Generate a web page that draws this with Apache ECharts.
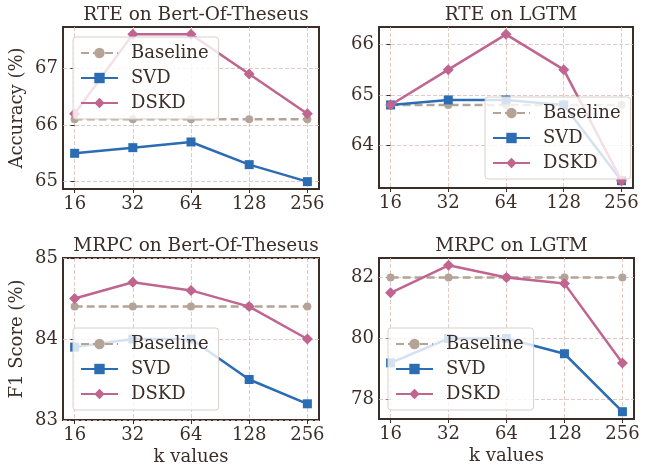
<!DOCTYPE html>
<html><head><meta charset="utf-8">
<script src="https://cdn.jsdelivr.net/npm/echarts@6/dist/echarts.min.js"></script>
<style>html,body{margin:0;padding:0;background:#fff}#c{width:650px;height:468px}</style>
</head><body><div id="c"></div>
<script>
const categories = ['16', '32', '64', '128', '256'];
const titles = ['RTE on Bert-Of-Theseus', 'RTE on LGTM', 'MRPC on Bert-Of-Theseus', 'MRPC on LGTM'];
const seriesNames = ['Baseline', 'SVD', 'DSKD'];

const rteBertBaseline = [66.1, 66.1, 66.1, 66.1, 66.1];
const rteBertSVD = [65.5, 65.6, 65.7, 65.3, 65.0];
const rteBertDSKD = [66.2, 67.6, 67.6, 66.9, 66.2];

const rteLgtmBaseline = [64.8, 64.8, 64.8, 64.8, 64.8];
const rteLgtmSVD = [64.8, 64.9, 64.9, 64.8, 63.3];
const rteLgtmDSKD = [64.8, 65.5, 66.2, 65.5, 63.3];

const mrpcBertBaseline = [84.4, 84.4, 84.4, 84.4, 84.4];
const mrpcBertSVD = [83.9, 84.0, 84.0, 83.5, 83.2];
const mrpcBertDSKD = [84.5, 84.7, 84.6, 84.4, 84.0];

const mrpcLgtmBaseline = [82.0, 82.0, 82.0, 82.0, 82.0];
const mrpcLgtmSVD = [79.2, 80.0, 80.0, 79.5, 77.6];
const mrpcLgtmDSKD = [81.5, 82.4, 82.0, 81.8, 79.2];

const yTicks = [[65, 66, 67], [64, 65, 66], [83, 84, 85], [78, 80, 82]];
const yNames = ['Accuracy (%)', '', 'F1 Score (%)', ''];
const xNames = ['', '', 'k values', 'k values'];

const panels = [
  [rteBertBaseline, rteBertSVD, rteBertDSKD],
  [rteLgtmBaseline, rteLgtmSVD, rteLgtmDSKD],
  [mrpcBertBaseline, mrpcBertSVD, mrpcBertDSKD],
  [mrpcLgtmBaseline, mrpcLgtmSVD, mrpcLgtmDSKD]
];

const FONT = 'DejaVu Serif';
const FS = 18;
const TXT = '#3b2e28';
const FRAME = '#3b2e28';
const GRIDC = '#dcbdb6';
const colors = ['#b4a397', '#2b6cb3', '#c0658f'];
const symbols = ['circle', 'rect', 'diamond'];
const symSizes = [8, 9, 11];

const grids = [
  {left: 63, top: 27, width: 256, height: 162},
  {left: 379, top: 27, width: 254, height: 161},
  {left: 63, top: 258, width: 256, height: 162},
  {left: 379, top: 258, width: 255, height: 161}
];
const yRanges = [[64.87, 67.73], [63.155, 66.345], [83, 85], [77.36, 82.64]];
const legendPos = [
  {left: 73, top: 37}, {left: 485, top: 97}, {left: 73, top: 328}, {left: 388, top: 328}
];

const option = {
  backgroundColor: '#fff',
  animation: false,
  title: [], grid: [], xAxis: [], yAxis: [], legend: [], series: []
};

grids.forEach((g, i) => {
  option.grid.push(Object.assign({show: true, borderColor: FRAME, borderWidth: 2, backgroundColor: 'transparent', containLabel: false}, g));
  option.title.push({
    text: titles[i], left: g.left + g.width / 2, top: g.top - 26, textAlign: 'center',
    textStyle: {fontFamily: FONT, fontSize: 18.5, fontWeight: 'normal', color: TXT}
  });
  option.xAxis.push({
    type: 'value', gridIndex: i, min: -0.2, max: 4.2,
    name: xNames[i], nameLocation: 'middle', nameGap: 28,
    nameTextStyle: {fontFamily: FONT, fontSize: FS, color: TXT},
    axisLine: {show: false},
    axisTick: {show: true, length: 4, customValues: [0, 1, 2, 3, 4], lineStyle: {color: FRAME, width: 1}},
    axisLabel: {customValues: [0, 1, 2, 3, 4], formatter: v => categories[Math.round(v)], fontFamily: FONT, fontSize: FS, color: TXT, margin: 6},
    splitLine: {show: true, lineStyle: {color: GRIDC, type: [4, 2], width: 0.8}}
  });
  option.yAxis.push({
    type: 'value', gridIndex: i, min: yRanges[i][0], max: yRanges[i][1],
    name: yNames[i], nameLocation: 'middle', nameGap: 37,
    nameTextStyle: {fontFamily: FONT, fontSize: FS, color: TXT},
    axisLine: {show: false},
    axisTick: {show: true, length: 4, customValues: yTicks[i], lineStyle: {color: FRAME, width: 1}},
    axisLabel: {customValues: yTicks[i], fontFamily: FONT, fontSize: FS, color: TXT, margin: 5},
    splitLine: {show: true, lineStyle: {color: GRIDC, type: [4, 2], width: 0.8}}
  });
  const names = seriesNames.map(n => n + (i === 0 ? '' : '\u200B'.repeat(i)));
  option.legend.push(Object.assign({
    orient: 'vertical', data: names,
    itemWidth: 37, itemHeight: 13, itemGap: 7,
    padding: [7, 10, 7, 7],
    backgroundColor: 'rgba(255,255,255,0.8)', borderColor: '#d8d0cc', borderWidth: 1, borderRadius: 3,
    textStyle: {fontFamily: FONT, fontSize: FS, color: TXT, lineHeight: 18, padding: [0, 0, 0, 8]},
    formatter: n => n.replace(/\u200B/g, ''),
    z: 10
  }, legendPos[i]));
  panels[i].forEach((vals, s) => {
    option.series.push({
      type: 'line', name: names[s], xAxisIndex: i, yAxisIndex: i,
      data: vals.map((v, k) => [k, v]),
      symbol: symbols[s], symbolSize: symSizes[s],
      lineStyle: {color: colors[s], width: 2.5, type: s === 0 ? [8, 4] : 'solid'},
      itemStyle: {color: colors[s]},
      z: 2 + s
    });
  });
});

const chart = echarts.init(document.getElementById('c'), null, {renderer: 'canvas'});
chart.setOption(option);
</script>
</body></html>
